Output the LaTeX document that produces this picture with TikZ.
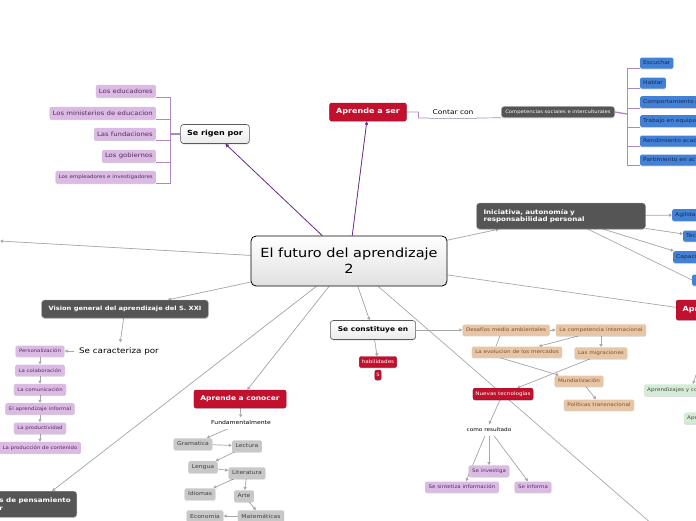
\documentclass[tikz,border=0pt]{standalone}
\usepackage{fontspec}
\setmainfont{DejaVu Sans}[FakeStretch=1.15]
\usepackage{tikz}
\usetikzlibrary{arrows.meta,positioning,shadows,backgrounds}
\definecolor{mapred}{RGB}{193,17,46}
\definecolor{mapdark}{RGB}{85,85,85}
\definecolor{maplilac}{RGB}{219,186,227}
\definecolor{mapblue}{RGB}{66,129,214}
\definecolor{maptan}{RGB}{232,197,165}
\definecolor{mapgray}{RGB}{200,200,200}
\definecolor{mapgreen}{RGB}{212,236,212}
\definecolor{mappurple}{RGB}{108,48,142}
\definecolor{maplink}{RGB}{175,135,198}
\definecolor{mapline}{RGB}{168,168,168}
\definecolor{mapplum}{RGB}{85,45,95}
\definecolor{mapnavy}{RGB}{25,40,80}
\definecolor{mapbrown}{RGB}{120,80,50}
\newcommand{\fsz}[2]{\fontsize{#1}{#2}\selectfont}
\tikzstyle{sh}=[drop shadow={shadow xshift=0pt,shadow yshift=-0.9pt,fill=black,opacity=0.18}]
\tikzstyle{mainbox}=[rectangle,rounded corners=5pt,draw=black,line width=0.8pt,top color=white,bottom color=black!12,
                  minimum width=196pt,minimum height=50pt,align=center,font=\fsz{12.6}{16}]
\tikzstyle{whbox}=[rectangle,rounded corners=3pt,draw=black!65,line width=0.6pt,top color=white,bottom color=black!8,
                  inner xsep=6.5pt,minimum height=19pt,font=\bfseries\fsz{7}{8},sh]
\tikzstyle{lblbox}=[rectangle,fill=white,inner xsep=3.5pt,minimum height=11pt,font=\fsz{5.3}{6},sh]
\tikzstyle{redbox}=[rectangle,rounded corners=2pt,fill=mapred,draw=mapred!85!black,text=white,inner xsep=6.5pt,
                  minimum height=18pt,font=\bfseries\fsz{7}{8},sh]
\tikzstyle{redsm}=[redbox,inner xsep=2.5pt,minimum height=11pt,font=\fsz{4.9}{6}]
\tikzstyle{darkbox}=[rectangle,rounded corners=3pt,fill=mapdark,draw=black!30,text=white,inner xsep=7pt,
                  minimum height=18pt,font=\bfseries\fsz{5.8}{7},sh]
\tikzstyle{lilbox}=[rectangle,rounded corners=1.5pt,fill=maplilac,text=mapplum,inner xsep=3pt,
                  minimum height=12.5pt,font=\fsz{6}{7},sh]
\tikzstyle{lilsm}=[lilbox,inner xsep=3.5pt,minimum height=11pt,font=\fsz{4.7}{6}]
\tikzstyle{bluebox}=[rectangle,rounded corners=1.5pt,fill=mapblue,text=mapnavy,inner xsep=3pt,
                  minimum height=11pt,font=\fsz{5.2}{6},sh]
\tikzstyle{tanbox}=[rectangle,rounded corners=1.5pt,fill=maptan,text=mapbrown,inner xsep=3.5pt,
                  minimum height=11pt,font=\fsz{4.9}{6},sh]
\tikzstyle{graybox}=[rectangle,rounded corners=1.5pt,fill=mapgray,text=black!75,inner xsep=3.5pt,
                  minimum height=11.5pt,font=\fsz{5.3}{6},sh]
\tikzstyle{greenbox}=[rectangle,rounded corners=1.5pt,fill=mapgreen,text=black!70,inner xsep=3pt,
                  minimum height=11pt,font=\fsz{5}{6},sh]
\tikzstyle{garrow}=[-{Triangle[length=3pt,width=3.2pt]},draw=mapline,fill=mapline,line width=0.7pt]
\tikzstyle{gline}=[draw=mapline,line width=0.7pt]
\tikzstyle{parrow}=[-{Triangle[length=3.5pt,width=3.5pt]},draw=mappurple,fill=mappurple,line width=0.8pt]
\tikzstyle{plink}=[draw=maplink,line width=0.7pt]

\begin{document}
\begin{tikzpicture}[x=1pt,y=-1pt]
  \useasboundingbox (0,0) rectangle (696,520);
  \node[mainbox] (fut) at (349,261) {El futuro del aprendizaje\\2};

  \node[whbox] (rig) at (215,134) {Se rigen por};
  \node[lilbox,anchor=east] (r1) at (156,91) {Los educadores};
  \node[lilbox,anchor=east] (r2) at (156,113) {Los ministerios de educacion};
  \node[lilbox,anchor=east] (r3) at (156,134) {Las fundaciones};
  \node[lilbox,anchor=east] (r4) at (156,156) {Los gobiernos};
  \node[lilbox,anchor=east,font=\fsz{4.8}{6}] (r5) at (156,177) {Los empleadores e investigadores};
  \coordinate (rigj) at (170,134);

  \node[redbox] (ser) at (368,112) {Aprende a ser};
  \node[lblbox,font=\fsz{6.5}{7}] (cnt) at (453,112) {Contar con};
  \node[darkbox,inner xsep=4pt,minimum height=10pt,font=\fsz{4.6}{5}] (comp) at (558,112) {Competencias sociales e interculturales};
  \coordinate (compj) at (627,114);
  \node[bluebox,anchor=west] (b1) at (640,63) {Escuchar};
  \node[bluebox,anchor=west] (b2) at (640,83) {Hablar};
  \node[bluebox,anchor=west,text width=72pt,align=left] (b3) at (640,102) {Comportamiento p};
  \node[bluebox,anchor=west,text width=72pt,align=left] (b4) at (640,121) {Trabajo en equipo};
  \node[bluebox,anchor=west,text width=72pt,align=left] (b5) at (640,141) {Rendimiento acade};
  \node[bluebox,anchor=west,text width=72pt,align=left] (b6) at (640,160) {Partimiento en acti};

  \node[darkbox,text width=155pt,align=left,minimum height=26pt,font=\bfseries\fsz{6.2}{7.6}] (ini) at (561,216)
       {Iniciativa, autonomía y\\responsabilidad personal};
  \node[bluebox,anchor=west,text width=34pt,align=left] (i1) at (672,215) {Agilidad};
  \node[bluebox,anchor=west,text width=22pt,align=left] (i2) at (683,236) {Tec};
  \node[bluebox,anchor=west,text width=34pt,align=left] (i3) at (673,257) {Capaci};
  \node[bluebox,anchor=west,minimum width=20pt] (i4) at (692,280) {};
  \node[redbox,anchor=west,text width=24pt,align=left,minimum height=20pt] (apr) at (676,310) {Apr};
  \coordinate (lft) at (0,241);

  \node[darkbox] (vis) at (125,309) {Vision general del aprendizaje del S. XXI};
  \node[lblbox,inner xsep=5pt,minimum height=17pt,font=\fsz{7.6}{9}] (car) at (119,351) {Se caracteriza por};
  \node[lilsm] (c1) at (40,351) {Personalización};
  \node[lilsm,below=7.8pt of c1] (c2) {La colaboración};
  \node[lilsm,below=7.8pt of c2] (c3) {La comunicación};
  \node[lilsm,below=7.8pt of c3] (c4) {El aprendizaje informal};
  \node[lilsm,below=7.8pt of c4] (c5) {La productividad};
  \node[lilsm,below=7.8pt of c5] (c6) {La producción de contenido};

  \node[darkbox,anchor=north east,align=left,inner xsep=6pt,minimum height=26pt,
        font=\bfseries\fsz{6.2}{7.6}] (pen) at (77,491) {s de pensamiento\\r};

  \node[redbox,font=\bfseries\fsz{6.5}{8}] (apc) at (240,399) {Aprende a conocer};
  \node[lblbox] (fun) at (241,423) {Fundamentalmente};
  \node[graybox] (gra) at (193,444) {Gramatica};
  \node[graybox] (lec) at (247,446) {Lectura};
  \node[graybox] (len) at (203,467) {Lengua};
  \node[graybox] (lit) at (247,473) {Literatura};
  \node[graybox] (idi) at (200,494) {Idiomas};
  \node[graybox] (art) at (244,496) {Arte};
  \node[graybox] (eco) at (205,516) {Economía};
  \node[graybox] (mat) at (261,516) {Matemáticas};

  \node[whbox,inner xsep=7.5pt,font=\bfseries\fsz{6.5}{8}] (cons) at (373,330) {Se constituye en};
  \node[redsm] (hab) at (378,362) {habilidades};
  \node[redsm,inner xsep=1.5pt,minimum height=7pt,font=\fsz{4.5}{5}] (five) at (378,375) {5};
  \node[tanbox] (des) at (506,330) {Desafíos medio ambientales};
  \node[tanbox] (comi) at (601,330) {La competencia internacional};
  \node[tanbox] (evo) at (517,352) {La evolucion de los mercados};
  \node[tanbox] (mig) at (601,353) {Las migraciones};
  \node[tanbox] (mun) at (579,381) {Mundialización};
  \node[tanbox] (pol) at (599,405) {Políticas transnacional};
  \node[redsm] (nue) at (503,394) {Nuevas tecnologías};
  \node[lblbox,font=\fsz{5}{6}] (res) at (489,430) {como resultado};
  \node[lilsm,font=\fsz{4.8}{6}] (inv) at (489,471) {Se investiga};
  \node[lilsm,font=\fsz{4.8}{6}] (sin) at (462,487) {Se sintetiza información};
  \node[lilsm,font=\fsz{4.8}{6}] (inf) at (533,487) {Se informa};
  \coordinate (brc) at (652,524);

  \node[greenbox,anchor=west,text width=62pt,align=left] (g1) at (644,390) {Aprendizajes y co};
  \node[greenbox,anchor=west,text width=16pt,align=left] (g2) at (684,418) {Apr};
  \coordinate (gtop) at (697,372);

  \begin{pgfonlayer}{background}
    \draw[parrow] (fut) -- (rig);
    \draw[parrow] (fut) -- (ser);
    \foreach \n in {r1,r2,r3,r4,r5}
      \draw[plink] (\n.south east) -| (rigj);
    \draw[plink,line width=1.3pt] (rigj) -- (rig.west);
    \draw[plink] (ser.east) -- ++(12,0) |- (cnt.south east) -- (comp.south west);
    \draw[plink,line width=1.3pt] (comp.east) -- (compj);
    \foreach \n in {b1,b2,b3,b4,b5,b6}
      \draw[plink] (\n.south west) -| (compj);
    \draw[garrow] (fut) -- (ini);
    \draw[garrow] (ini) -- (i1);
    \draw[garrow] (ini) -- (i2);
    \draw[garrow] (ini) -- (i3);
    \draw[gline] (ini) -- (i4.west);
    \draw[gline] (fut) -- (apr);
    \draw[garrow] (fut) -- (lft);
    \draw[garrow] (fut) -- (vis);
    \draw[garrow] (vis) -- (car);
    \draw[garrow] (car) -- (c1);
    \draw[garrow] (c1) -- (c2);
    \draw[garrow] (c2) -- (c3);
    \draw[garrow] (c3) -- (c4);
    \draw[garrow] (c4) -- (c5);
    \draw[garrow] (c5) -- (c6);
    \draw[garrow] (fut) -- (pen);
    \draw[garrow] (fut) -- (apc);
    \draw[garrow] (apc) -- (fun);
    \draw[garrow] (fun) -- (gra);
    \draw[garrow] (gra) -- (lec);
    \draw[garrow] (lec) -- (len);
    \draw[garrow] (len) -- (lit);
    \draw[garrow] (lit) -- (idi);
    \draw[garrow] (lit) -- (art);
    \draw[garrow] (art) -- (mat);
    \draw[garrow] (mat) -- (eco);
    \draw[garrow] (fut) -- (cons);
    \draw[garrow] (cons) -- (hab);
    \draw[garrow] (cons) -- (des);
    \draw[garrow] (des) -- (comi);
    \draw[garrow] (comi) -- (evo);
    \draw[garrow] (comi) -- (mig);
    \draw[gline] ([xshift=-6pt]des.south) -- ([xshift=-21pt]evo.north);
    \draw[garrow] ([xshift=-17pt]evo.south) -- ([xshift=-20pt]mun.north);
    \draw[garrow] ([xshift=7pt]mun.south) -- ([xshift=-3pt]pol.north);
    \draw[garrow] ([xshift=-11pt]mig.south) -- ([xshift=14pt]nue.north);
    \draw[garrow] ([xshift=-3pt]nue.south) -- (res.north);
    \draw[garrow] ([xshift=-4pt]res.south) -- ([xshift=4pt]sin.north);
    \draw[garrow] (res.south) -- (inv.north);
    \draw[garrow] ([xshift=5pt]res.south) -- ([xshift=-5pt]inf.north);
    \draw[gline] (fut) -- (brc);
    \draw[garrow] (gtop) -- ([xshift=49pt]g1.north west);
  \end{pgfonlayer}
\end{tikzpicture}
\end{document}
